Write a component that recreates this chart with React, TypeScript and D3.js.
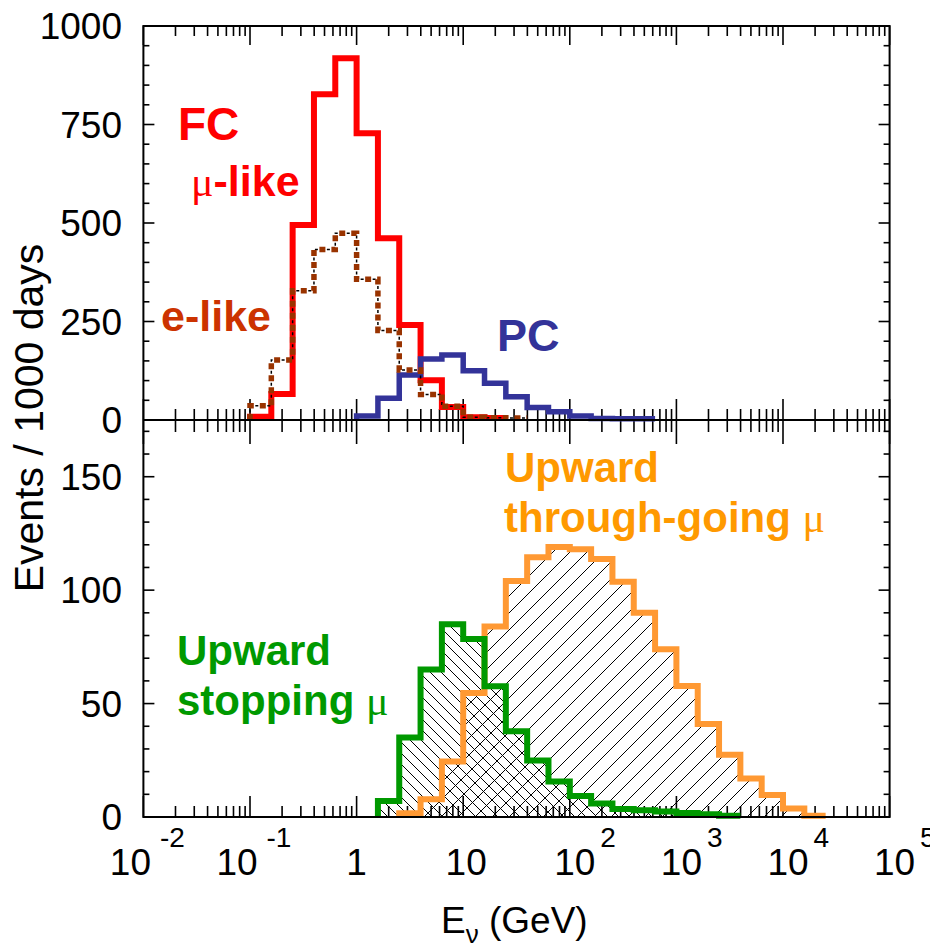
import React from 'react';
import * as d3 from 'd3';

// ---- data (histograms, bins 0.2 decade wide in log10 E) ----
const BIN_WIDTH = 0.2;
const fcMuStart = -1.0;
const fcMuLike = [8, 66, 495, 827, 918, 728, 461, 241, 101, 33, 7, 5];
const fcEStart = -1.0;
const fcELike = [36, 152, 328, 433, 474, 357, 227, 127, 65, 35, 7, 6, 5];
const pcStart = 0.0;
const pcValues = [10, 55, 114, 155, 165, 125, 93, 59, 32, 21, 10, 4, 3, 3];
const stopStart = 0.2;
const upStopping = [7, 35, 65, 85, 78.5, 57.6, 37.8, 24.9, 15.6, 9.3, 6, 3.5, 3, 2.4, 1.8, 1.2, 0.6];
const thruStart = 0.4;
const upThrough = [1.6, 7.8, 24.5, 54.7, 84, 104, 114.5, 119, 118, 113.7, 103.7, 90, 73.9, 57.7, 41, 27.4, 17, 9.7, 3.8, 0.5];

const xDecades = [-2, -1, 0, 1, 2, 3, 4, 5];
const topYTicks = [0, 250, 500, 750, 1000];
const botYTicks = [0, 50, 100, 150];

// ---- layout ----
const W = 930, H = 944;
const L = 143.4, R = 889.6, T = 26, MID = 420, B = 817;
const FONT = 'Liberation Sans, Arial, Helvetica, sans-serif';

const x = d3.scaleLog().domain([1e-2, 1e5]).range([L, R]);
const yTop = d3.scaleLinear().domain([0, 1000]).range([MID, T]);
const yBot = d3.scaleLinear().domain([0, 175]).range([B, MID]);

function stepPoints(start: number, vals: number[]): [number, number][] {
  const pts: [number, number][] = [[Math.pow(10, start), 0]];
  vals.forEach((v, i) => pts.push([Math.pow(10, start + i * BIN_WIDTH), v]));
  pts.push([Math.pow(10, start + vals.length * BIN_WIDTH), vals[vals.length - 1]]);
  return pts;
}

function stepPath(start: number, vals: number[], y: d3.ScaleLinear<number, number>) {
  const line = d3.line<[number, number]>().x(d => x(d[0])).y(d => y(d[1])).curve(d3.curveStepAfter);
  return line(stepPoints(start, vals)) || '';
}

function stepArea(start: number, vals: number[], y: d3.ScaleLinear<number, number>) {
  const pts = stepPoints(start, vals);
  const area = d3.area<[number, number]>().x(d => x(d[0])).y0(y(0)).y1(d => y(d[1])).curve(d3.curveStepAfter);
  return area(pts) || '';
}

export default function App() {
  const minorX: number[] = [];
  for (let d = -2; d < 5; d++) for (let k = 2; k <= 9; k++) minorX.push(k * Math.pow(10, d));
  const majorX = xDecades.map(d => Math.pow(10, d));

  const topMinorY = d3.range(0, 1001, 50);
  const botMinorY = d3.range(0, 171, 10);

  const tickStroke = { stroke: '#000', strokeWidth: 1.6 };

  return (
    <svg width={W} height={H} style={{ position: 'absolute', left: 0, top: 0, background: '#fff' }}>
      <defs>
        <pattern id="hatchBack" patternUnits="userSpaceOnUse" width={11} height={11}>
          <line x1={0} y1={0} x2={11} y2={11} stroke="#000" strokeWidth={1} />
          <line x1={-11} y1={0} x2={0} y2={11} stroke="#000" strokeWidth={1} />
          <line x1={11} y1={0} x2={22} y2={11} stroke="#000" strokeWidth={1} />
        </pattern>
        <pattern id="hatchFwd" patternUnits="userSpaceOnUse" width={17} height={17}>
          <line x1={0} y1={17} x2={17} y2={0} stroke="#000" strokeWidth={1} />
          <line x1={-17} y1={17} x2={0} y2={0} stroke="#000" strokeWidth={1} />
          <line x1={17} y1={17} x2={34} y2={0} stroke="#000" strokeWidth={1} />
        </pattern>
      </defs>

      {/* hatched areas */}
      <path d={stepArea(thruStart, upThrough, yBot)} fill="url(#hatchFwd)" />
      <path d={stepArea(stopStart, upStopping, yBot)} fill="url(#hatchBack)" />

      {/* x ticks */}
      {minorX.map((v, i) => (
        <g key={'mx' + i} {...tickStroke}>
          <line x1={x(v)} x2={x(v)} y1={T} y2={T + 10} />
          <line x1={x(v)} x2={x(v)} y1={MID} y2={MID - 11} />
          <line x1={x(v)} x2={x(v)} y1={MID} y2={MID + 12} />
          <line x1={x(v)} x2={x(v)} y1={B} y2={B - 11} />
        </g>
      ))}
      {majorX.map((v, i) => (
        <g key={'Mx' + i} {...tickStroke}>
          <line x1={x(v)} x2={x(v)} y1={T} y2={T + 19} />
          <line x1={x(v)} x2={x(v)} y1={MID} y2={MID - 21} />
          <line x1={x(v)} x2={x(v)} y1={MID} y2={MID + 24} />
          <line x1={x(v)} x2={x(v)} y1={B} y2={B - 21} />
        </g>
      ))}
      {/* y ticks */}
      {topMinorY.map((v, i) => {
        const len = v % 250 === 0 ? 11 : 6;
        return (
          <g key={'ty' + i} {...tickStroke}>
            <line x1={L} x2={L + len} y1={yTop(v)} y2={yTop(v)} />
            <line x1={R} x2={R - len} y1={yTop(v)} y2={yTop(v)} />
          </g>
        );
      })}
      {botMinorY.map((v, i) => {
        const len = v % 50 === 0 ? 11 : 6;
        return (
          <g key={'by' + i} {...tickStroke}>
            <line x1={L} x2={L + len} y1={yBot(v)} y2={yBot(v)} />
            <line x1={R} x2={R - len} y1={yBot(v)} y2={yBot(v)} />
          </g>
        );
      })}

      {/* top panel histograms */}
      <path d={stepPath(fcMuStart, fcMuLike, yTop)} fill="none" stroke="#ff0000" strokeWidth={6} />
      <path d={stepPath(pcStart, pcValues, yTop)} fill="none" stroke="#333399" strokeWidth={5.5} />
      <path d={stepPath(fcEStart, fcELike, yTop)} fill="none" stroke="#000" strokeWidth={1.5} strokeDasharray="3 9" strokeDashoffset={-7.5} />
      <path d={stepPath(fcEStart, fcELike, yTop)} fill="none" stroke="#993300" strokeWidth={5.5} strokeDasharray="6 6" />

      {/* bottom panel histograms */}
      <path d={stepPath(thruStart, upThrough, yBot)} fill="none" stroke="#ff9933" strokeWidth={6} />
      <path d={stepPath(stopStart, upStopping, yBot)} fill="none" stroke="#009900" strokeWidth={6} />

      {/* frame */}
      <rect x={L} y={T} width={R - L} height={B - T} fill="none" stroke="#000" strokeWidth={2} />
      <line x1={L} x2={R} y1={MID} y2={MID} stroke="#000" strokeWidth={2} />

      {/* y tick labels */}
      {topYTicks.map(v => (
        <text key={'tl' + v} x={122} y={yTop(v) + 13} textAnchor="end" fontFamily={FONT} fontSize={37}>{v}</text>
      ))}
      {botYTicks.map(v => (
        <text key={'bl' + v} x={122} y={yBot(v) + 13} textAnchor="end" fontFamily={FONT} fontSize={37}>{v}</text>
      ))}

      {/* x tick labels */}
      {xDecades.map(d => {
        const px = x(Math.pow(10, d));
        if (d === 0) return <text key={'xl' + d} x={px} y={875} textAnchor="middle" fontFamily={FONT} fontSize={37}>1</text>;
        if (d === 1) return <text key={'xl' + d} x={px + 3} y={875} textAnchor="middle" fontFamily={FONT} fontSize={37}>10</text>;
        const off = d < 0 ? -13 : 5;
        const gap = d < 0 ? 9 : 5;
        return (
          <g key={'xl' + d} fontFamily={FONT}>
            <text x={px + off} y={875} textAnchor="middle" fontSize={37}>10</text>
            <text x={px + off + 20.5 + gap} y={847} fontSize={28}>{String(d)}</text>
          </g>
        );
      })}

      {/* axis titles */}
      <text transform={`translate(43,418) rotate(-90)`} textAnchor="middle" fontFamily={FONT} fontSize={41}>Events / 1000 days</text>
      <text x={441} y={933} fontFamily={FONT} fontSize={37}>
        E<tspan fontSize={26} dy={10}>ν</tspan><tspan dy={-10}> (GeV)</tspan>
      </text>

      {/* annotations */}
      <g fontFamily={FONT} fontWeight="bold">
        <text x={178} y={140} fontSize={46} fill="#ff0000">FC</text>
        <text x={191} y={196} fontSize={43} fill="#ff0000">
          <tspan fontFamily="Liberation Serif, serif" fontWeight="normal" fontSize={42}>μ</tspan>-like
        </text>
        <text x={161} y={331} fontSize={43} fill="#cc3300">e-like</text>
        <text x={497} y={351} fontSize={45} fill="#333399">PC</text>
        <text x={505} y={482} fontSize={42} fill="#ff9900">Upward</text>
        <text x={504} y={532} fontSize={42} fill="#ff9900">
          through-going <tspan fontFamily="Liberation Serif, serif" fontWeight="normal">μ</tspan>
        </text>
        <text x={177} y={665} fontSize={42} fill="#009900">Upward</text>
        <text x={177} y={715} fontSize={42} fill="#009900">
          stopping <tspan fontFamily="Liberation Serif, serif" fontWeight="normal">μ</tspan>
        </text>
      </g>
    </svg>
  );
}
